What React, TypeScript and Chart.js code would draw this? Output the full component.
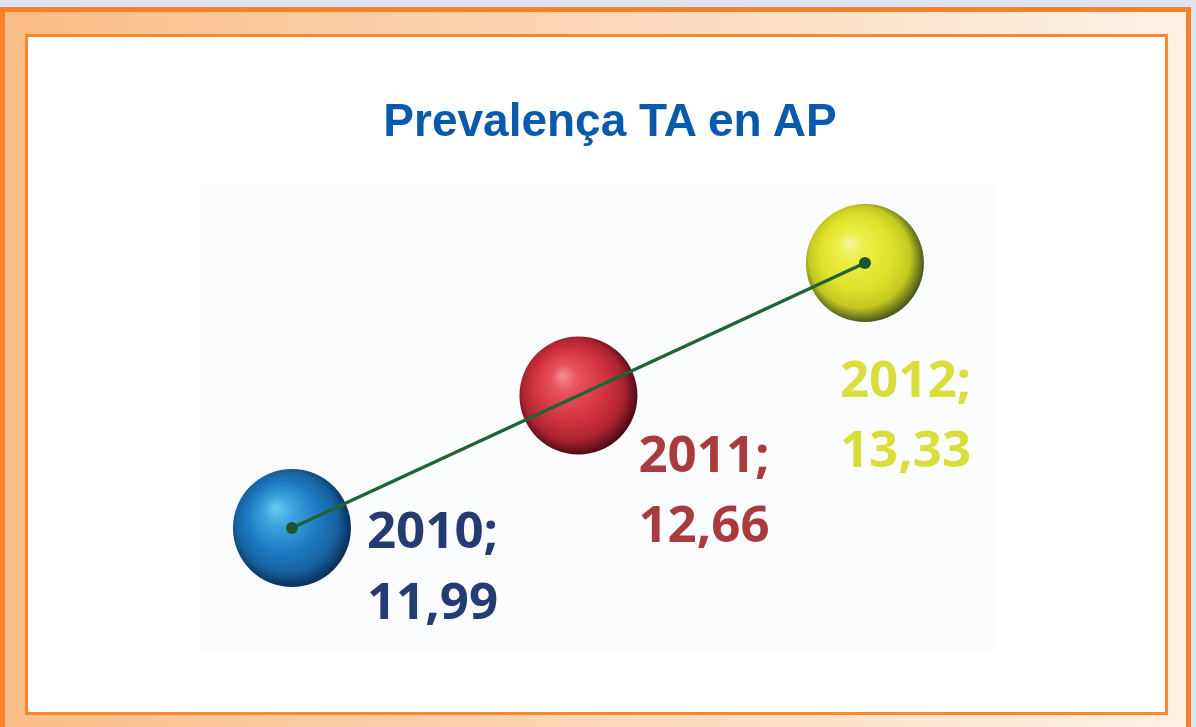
import React, { useEffect, useRef } from 'react';
import { Chart, registerables } from 'chart.js';

Chart.register(...registerables);

// ---- data ----
const years = ['2010', '2011', '2012'];
const yearValues = [2010, 2011, 2012];
const prevalence = [11.99, 12.66, 13.33];
const chartTitle = 'Prevalença TA en AP';

// ---- styles ----
const spherePalettes = [
  ['#6ccaf2', '#3fa6e0', '#1d79c1', '#16629f', '#0c2f5a'],
  ['#f48e94', '#e8525d', '#d2323f', '#ad2431', '#4e0c14'],
  ['#f6f79a', '#ecee48', '#e0e22b', '#c4c81f', '#4a5a1e'],
];
const sphereStops = [0, 0.22, 0.58, 0.82, 1];
const labelColors = ['#263b72', '#a93b3e', '#d8df3c'];
const labelOffsets = [
  { dx: 75, dy1: 20, dy2: 91 },
  { dx: 60, dy1: 77, dy2: 147 },
  { dx: -25, dy1: 134, dy2: 204 },
];
const SPHERE_RADIUS = 59;

const fmt = (v: number) => v.toFixed(2).replace('.', ',');

export default function App() {
  const canvasRef = useRef<HTMLCanvasElement | null>(null);

  useEffect(() => {
    const canvas = canvasRef.current;
    if (!canvas) return;

    const points = yearValues.map((x, i) => ({ x, y: prevalence[i] }));

    const plotBg = {
      id: 'plotBg',
      beforeDatasetsDraw(chart: any) {
        const { ctx, chartArea } = chart;
        ctx.save();
        ctx.fillStyle = '#fbfcfe';
        ctx.fillRect(chartArea.left, chartArea.top, chartArea.right - chartArea.left, chartArea.bottom - chartArea.top);
        ctx.restore();
      },
    };

    const labelsPlugin = {
      id: 'pointLabels',
      afterDatasetsDraw(chart: any) {
        const { ctx } = chart;
        const meta = chart.getDatasetMeta(1);
        ctx.save();
        ctx.font = 'bold 51px "Open Sans"';
        ctx.textAlign = 'left';
        ctx.textBaseline = 'alphabetic';
        meta.data.forEach((el: any, i: number) => {
          const o = labelOffsets[i];
          ctx.fillStyle = labelColors[i];
          ctx.fillText(years[i] + ';', el.x + o.dx, el.y + o.dy1);
          ctx.fillText(fmt(prevalence[i]), el.x + o.dx, el.y + o.dy2);
        });
        ctx.restore();
      },
    };

    const sphereFill = (c: any) => {
      const chart = c.chart;
      const i = c.dataIndex;
      const p = c.parsed;
      if (!chart.scales || !chart.scales.x || !p) return spherePalettes[i][2];
      const cx = chart.scales.x.getPixelForValue(p.x);
      const cy = chart.scales.y.getPixelForValue(p.y);
      if (!isFinite(cx) || !isFinite(cy)) return spherePalettes[i][2];
      const r = SPHERE_RADIUS;
      const g = chart.ctx.createRadialGradient(cx - 0.28 * r, cy - 0.35 * r, 0, cx - 0.05 * r, cy - 0.05 * r, r * 1.05);
      spherePalettes[i].forEach((col, k) => g.addColorStop(sphereStops[k], col));
      return g;
    };

    const chart = new Chart(canvas, {
      type: 'scatter',
      data: {
        datasets: [
          {
            type: 'line',
            label: 'trend',
            data: points,
            showLine: true,
            borderColor: '#1d6538',
            borderWidth: 3.5,
            pointRadius: [6, 0, 6],
            pointBackgroundColor: '#1b5530',
            pointBorderWidth: 0,
            order: 0,
            clip: false,
          } as any,
          {
            type: 'scatter',
            label: 'Prevalença',
            data: points,
            pointRadius: SPHERE_RADIUS,
            pointHoverRadius: SPHERE_RADIUS,
            pointBorderWidth: 0,
            pointBackgroundColor: sphereFill,
            order: 1,
            clip: false,
          } as any,
        ],
      },
      options: {
        animation: false,
        responsive: false,
        events: [],
        layout: { padding: { left: 172, right: 170, top: 146, bottom: 62 } },
        scales: {
          x: { type: 'linear', display: false, min: 2009.679, max: 2012.454 },
          y: { type: 'linear', display: false, min: 11.373, max: 13.7345 },
        },
        plugins: {
          legend: { display: false },
          tooltip: { enabled: false },
          title: { display: false },
        },
      },
      plugins: [plotBg, labelsPlugin],
    });

    return () => chart.destroy();
  }, []);

  return (
    <div style={{ position: 'absolute', left: 0, top: 0, width: 1196, height: 727, overflow: 'hidden', background: '#dde3f0' }}>
      <div
        style={{
          position: 'absolute',
          left: 0,
          top: 7,
          width: 1191,
          height: 740,
          boxSizing: 'border-box',
          borderTop: '5px solid #f5822a',
          borderLeft: '5px solid #f5822a',
          borderRight: '5px solid #f5822a',
          background: 'linear-gradient(to right, #fbbd88, #fdf1e4)',
        }}
      />
      <div
        style={{
          position: 'absolute',
          left: 25,
          top: 34,
          width: 1143,
          height: 681,
          boxSizing: 'border-box',
          border: '3px solid #f7882f',
          background: '#ffffff',
        }}
      />
      <canvas
        ref={canvasRef}
        width={1137}
        height={675}
        style={{ position: 'absolute', left: 28, top: 37, width: 1137, height: 675 }}
      />
      <div
        style={{
          position: 'absolute',
          left: 0,
          top: 97,
          width: 1220,
          textAlign: 'center',
          fontFamily: '"Liberation Sans", Arial, sans-serif',
          fontWeight: 'bold',
          fontSize: 46,
          lineHeight: '46px',
          color: '#0a5aab',
          whiteSpace: 'nowrap',
        }}
      >
        {chartTitle}
      </div>
    </div>
  );
}
